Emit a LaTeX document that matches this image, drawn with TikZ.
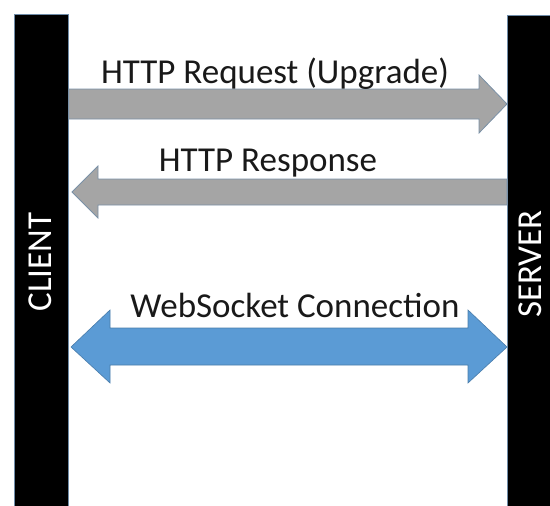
\documentclass[tikz,border=0pt]{standalone}
\usepackage{fontspec}
\setmainfont{Carlito}
\begin{document}
\begin{tikzpicture}[x=1pt,y=-1pt]
\definecolor{wsblue}{HTML}{5B9BD5}
\definecolor{wsgray}{HTML}{A5A5A5}
\definecolor{baredge}{HTML}{6F8CA8}
\tikzset{
  bar/.style={fill=black,draw=baredge,line width=0.8pt,
    minimum width=54pt,minimum height=510pt,inner sep=0pt,anchor=north west},
  barlabel/.style={text=white,rotate=90,anchor=base,inner sep=0pt,
    text depth=0pt,font=\fontsize{35}{40}\selectfont},
  label/.style={text=black!90,anchor=base,font=\fontsize{35}{40}\selectfont},
  grayarrow/.style={fill=wsgray,draw=baredge!80!wsgray,line width=0.8pt},
  bluearrow/.style={fill=wsblue,draw=wsblue!80!black,line width=0.6pt}}
\useasboundingbox (0,0) rectangle (550,506);
\clip (0,0) rectangle (550,506);

% the two end points
\node[bar] (client) at (14,14) {};
\node[bar,minimum width=60pt] (server) at (507,15) {};
\node[barlabel] (clientlbl) at (52,262) {CLIENT};
\node[barlabel] (serverlbl) at (541,264) {SERVER};

% handshake request: client -> server
\draw[grayarrow] (client.east |- 0,89) -- (479,89) -- (479,75)
  -- (server.west |- 0,104) -- (479,133) -- (479,119) -- (client.east |- 0,119) -- cycle;
\node[label] (req) at (275,83) {HTTP Request (Upgrade)};

% handshake response: server -> client
\draw[grayarrow] (server.west |- 0,179) -- (98,179) -- (98,166)
  -- (72,192) -- (98,218) -- (98,205) -- (server.west |- 0,205) -- cycle;
\node[label] (resp) at (268,171) {HTTP Response};

% persistent two-way channel
\draw[bluearrow] (71,347) -- (110,310) -- (110,328) -- (468,328) -- (468,310)
  -- (server.west |- 0,347) -- (468,383) -- (468,365) -- (110,365) -- (110,383) -- cycle;
\node[label] (ws) at (295,317) {WebSocket Connection};
\end{tikzpicture}
\end{document}
